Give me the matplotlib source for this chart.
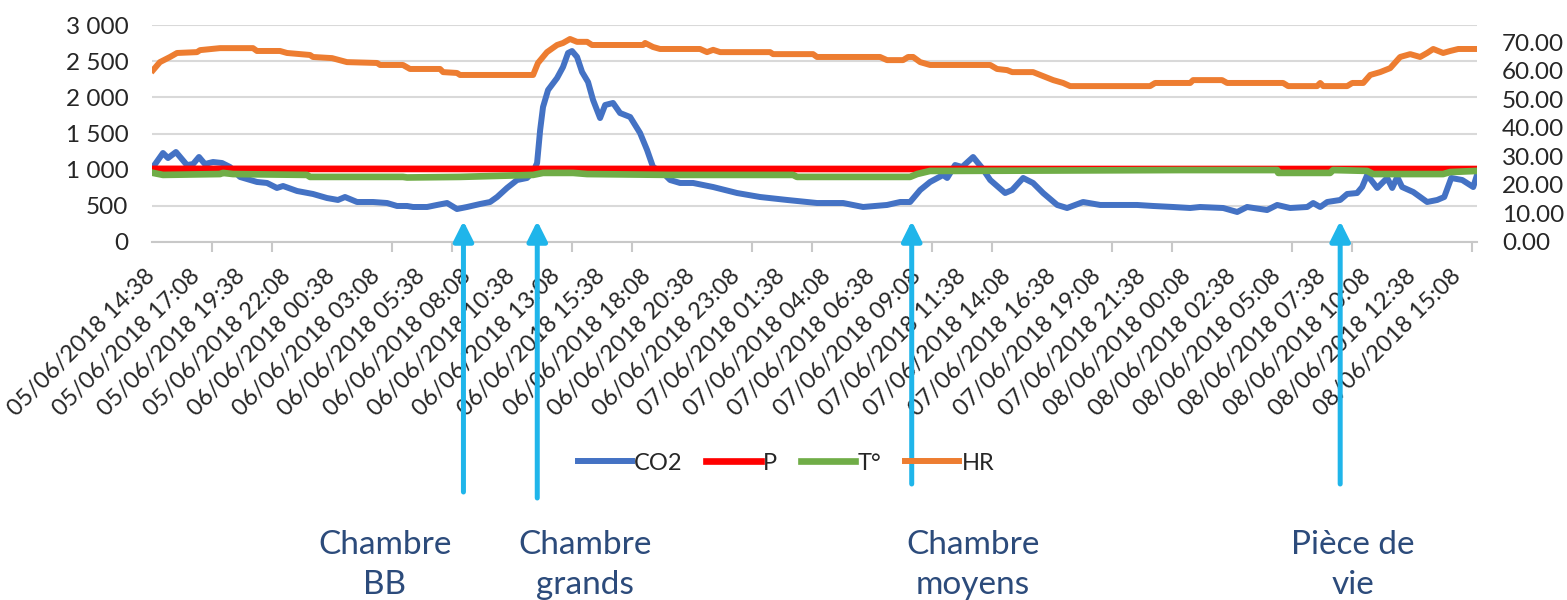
import numpy as np
import matplotlib.pyplot as plt
import pandas as pd
from matplotlib.ticker import FuncFormatter

# hours since 05/06/2018 14:38
hours_co2 = [0.06, 0.61, 0.89, 1.33, 1.94, 2.28, 2.61, 2.94, 3.39, 3.89, 4.33, 4.89,
             5.83, 6.39, 6.94, 7.28, 8.06, 8.94, 9.72, 10.33, 10.72, 11.39, 12.28, 13.06,
             13.61, 14.17, 14.5, 15.28, 15.83, 16.39, 16.94, 17.5, 18.22, 18.78, 19.17,
             19.72, 20.28, 20.83, 21.17, 21.39, 21.56, 21.72, 22.0, 22.5, 22.83, 23.11,
             23.33, 23.61, 23.89, 24.22, 24.5, 24.89, 25.17, 25.61, 26.0, 26.56, 27.11,
             27.5, 27.83, 28.39, 28.78, 29.33, 30.06, 31.17, 32.5, 33.78, 35.28, 36.94,
             38.39, 39.5, 40.83, 41.56, 42.11, 42.67, 43.22, 43.94, 44.17, 44.61, 45.0,
             45.61, 46.11, 46.56, 47.39, 47.78, 48.39, 48.94, 49.5, 50.28, 50.83, 51.72,
             52.67, 53.78, 54.72, 55.61, 56.72, 57.67, 58.22, 59.5, 60.28, 60.83, 61.94,
             62.5, 63.22, 64.17, 64.5, 64.89, 65.28, 66.0, 66.39, 66.94, 67.22, 67.5,
             68.06, 68.61, 68.89, 69.17, 69.44, 70.06, 70.83, 71.39, 71.78, 72.17, 72.78,
             73.39, 73.6]
co2 = [1037, 1230, 1161, 1244, 1064, 1078, 1175, 1078, 1106, 1092, 1037, 899,
       830, 816, 747, 774, 705, 664, 608, 581, 622, 553, 553, 539,
       498, 498, 484, 484, 512, 539, 456, 484, 525, 553, 622,
       747, 857, 885, 968, 1092, 1548, 1866, 2101, 2267, 2419, 2613,
       2640, 2558, 2350, 2212, 1963, 1714, 1894, 1922, 1783, 1728, 1507,
       1272, 1037, 954, 857, 816, 816, 760, 677, 622, 581, 539,
       539, 484, 512, 553, 553, 719, 830, 926, 885, 1064, 1037,
       1175, 1023, 857, 677, 719, 885, 816, 677, 512, 470, 553,
       512, 512, 512, 498, 484, 470, 484, 470, 415, 484, 442,
       512, 470, 484, 539, 484, 553, 581, 664, 677, 760, 926,
       747, 885, 747, 899, 760, 691, 553, 581, 622, 885, 857,
       760, 926]

hours_p = [0.0, 24.0, 48.0, 73.6]
pres = [1011, 1010, 1009, 1009]

hours_t = [0.06, 0.61, 3.78, 3.94, 4.5, 8.61, 8.78, 13.94, 14.17, 17.11, 21.17, 21.72,
           23.39, 24.17, 28.78, 35.61, 35.83, 42.11, 42.5, 43.22, 44.5, 57.11, 62.5,
           62.56, 65.44, 65.61, 67.5, 67.83, 71.72, 72.11, 73.6]
temp = [24.2, 23.5, 23.8, 24.2, 23.8, 23.5, 22.8, 22.8, 22.6, 22.8, 23.5, 24.2,
        24.2, 23.8, 23.5, 23.5, 22.8, 22.8, 23.8, 24.9, 24.9, 25.2, 25.2,
        24.2, 24.2, 25.2, 24.9, 23.8, 23.8, 24.5, 24.9]

hours_hr = [0.06, 0.44, 1.0, 1.39, 2.5, 2.67, 3.78, 5.61, 5.83, 7.11, 7.5, 8.78, 8.94,
            10.0, 10.83, 12.5, 12.67, 13.94, 14.33, 16.0, 16.17, 16.94, 17.11, 21.17,
            21.44, 21.94, 22.5, 22.83, 23.22, 23.61, 24.17, 24.44, 27.28, 27.39, 27.83,
            28.22, 30.44, 30.83, 31.17, 31.56, 34.33, 34.5, 36.72, 36.94, 40.44, 40.83,
            41.72, 42.0, 42.28, 42.67, 43.22, 46.56, 46.94, 47.5, 47.78, 48.94, 49.5,
            50.06, 50.61, 51.0, 55.44, 55.72, 57.67, 57.83, 59.44, 59.72, 62.83, 63.11,
            64.72, 64.89, 65.06, 66.39, 66.67, 67.28, 67.67, 68.22, 68.78, 69.33, 69.89,
            70.44, 70.83, 71.17, 71.72, 72.11, 72.56, 73.6]
hr = [60.2, 63.0, 64.8, 66.2, 66.5, 67.2, 67.9, 67.9, 66.9, 66.9, 66.2, 65.5, 64.8,
      64.4, 63.0, 62.7, 62.0, 62.0, 60.6, 60.6, 59.5, 59.2, 58.5, 58.5,
      62.7, 66.5, 69.0, 69.7, 71.1, 70.1, 70.1, 69.0, 69.0, 69.7, 68.3,
      67.6, 67.6, 66.5, 67.3, 66.5, 66.5, 65.8, 65.8, 64.8, 64.8, 63.7,
      63.7, 64.8, 64.8, 63.0, 62.0, 62.0, 60.6, 60.2, 59.5, 59.5, 58.1,
      56.7, 55.7, 54.6, 54.6, 55.7, 55.7, 56.7, 56.7, 55.7, 55.7, 54.6,
      54.6, 55.7, 54.6, 54.6, 55.7, 55.7, 58.5, 59.5, 60.9, 64.8, 65.8,
      64.8, 66.2, 67.6, 66.2, 66.9, 67.6, 67.6]

x_end = 73.6
label_hours = np.arange(30) * 2.5
tick_labels = pd.date_range('2018-06-05 14:38', periods=30, freq='150min').strftime('%d/%m/%Y %H:%M')
mark_hours = np.arange(0, x_end, 200 / 60)

# rooms pointed at by the arrows (hours) and their captions
event_hours = [17.3, 21.4, 42.2, 66.0]
event_tails = [492, 498, 484, 484]
captions = ['Chambre\nBB', 'Chambre\ngrands', 'Chambre\nmoyens', 'Pièce de\nvie']
caption_x = [385, 585, 973, 1353]

plt.rcParams['font.family'] = ['Lato', 'DejaVu Sans']
W, H = 1567, 600
fig = plt.figure(figsize=(W / 100, H / 100), dpi=100)
ax = fig.add_axes([152 / W, 1 - 242 / H, (1477 - 152) / W, (242 - 25) / H])
ax2 = ax.twinx()

l1, = ax.plot(hours_co2, co2, color='#4472C4', lw=4.3, solid_joinstyle='round', label='CO2')
l2, = ax.plot(hours_p, pres, color='#FF0000', lw=4.8, label='P')
l3, = ax2.plot(hours_t, temp, color='#70AD47', lw=4.8, label='T°')
l4, = ax2.plot(hours_hr, hr, color='#ED7D31', lw=4.3, solid_joinstyle='round', label='HR')

ax.set_xlim(0, x_end)
ax.set_ylim(0, 3000)
ax.set_yticks(range(0, 3001, 500))
ax.yaxis.set_major_formatter(FuncFormatter(lambda v, _: f'{int(v):,}'.replace(',', ' ')))
ax2.set_ylim(0, 76)
ax2.set_yticks(np.arange(0, 71, 10))
ax2.yaxis.set_major_formatter(FuncFormatter(lambda v, _: f'{v:.2f}'))

ax.grid(axis='y', color='#D9D9D9', lw=1.5)
ax.set_axisbelow(True)
for a in (ax, ax2):
    for s in a.spines.values():
        s.set_visible(False)
ax.spines['bottom'].set_visible(True)
ax.spines['bottom'].set_color('#C8C8C8')
ax.spines['bottom'].set_linewidth(1.5)

ax.set_xticks(label_hours)
ax.set_xticklabels(tick_labels)
ax.set_xticks(mark_hours, minor=True)
ax.tick_params(axis='x', which='major', length=0, pad=22, labelsize=17, labelcolor='#262626')
ax.tick_params(axis='x', which='minor', length=7, width=1.5, color='#C8C8C8')
for lab in ax.get_xticklabels():
    lab.set_rotation(45)
    lab.set_ha('right')
    lab.set_va('center')
    lab.set_rotation_mode('anchor')
ax.tick_params(axis='y', length=0, pad=17, labelsize=17.5, labelcolor='#262626')
ax2.tick_params(axis='y', length=0, pad=18, labelsize=17.5, labelcolor='#262626')

fig.legend([l1, l2, l3, l4], ['CO2', 'P', 'T°', 'HR'], loc='center',
           bbox_to_anchor=(786 / W, 1 - 463 / H), ncol=4, frameon=False, fontsize=17,
           handlelength=2.3, handletextpad=0.1, columnspacing=1.0, labelcolor='#262626')

# arrows and captions
for t, tail in zip(event_hours, event_tails):
    xp = ax.transData.transform((t, 0))[0]
    ax.annotate('', xy=(xp, H - 221), xytext=(xp, H - tail), xycoords='figure pixels',
                textcoords='figure pixels', annotation_clip=False,
                arrowprops=dict(arrowstyle='-|>', lw=3.6, color='#1FB5EA', mutation_scale=30,
                                shrinkA=0, shrinkB=0))
for txt, cx in zip(captions, caption_x):
    fig.text(cx / W, 1 - 565 / H, txt, ha='center', va='center', fontsize=24,
             color='#2C4B7B', linespacing=1.4)

fig.savefig('out.png', dpi=100)
